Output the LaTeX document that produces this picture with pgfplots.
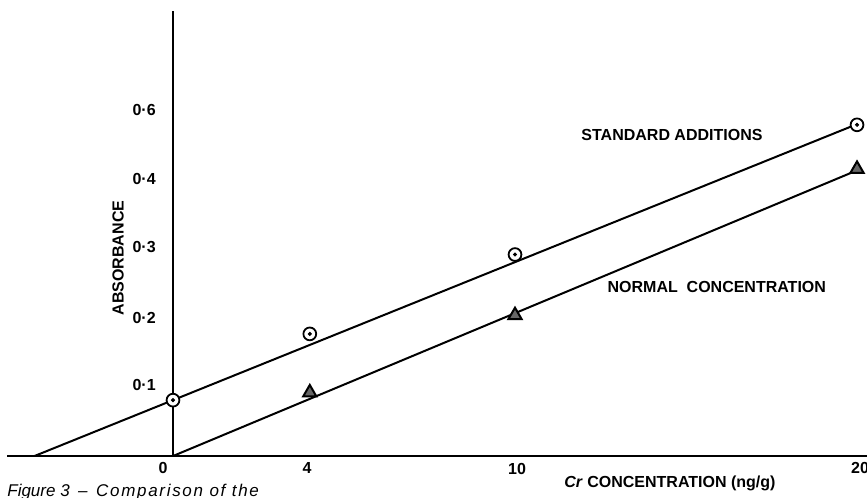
\documentclass[border=0pt]{standalone}
\usepackage{fontspec}
\setmainfont{Liberation Sans}
\usepackage{pgfplots}
\pgfplotsset{compat=1.18}
\tikzset{lbl/.style={font=\bfseries\fontsize{8}{9}\selectfont}}
\begin{document}
\begin{tikzpicture}
\begin{axis}[
  scale only axis, width=433.5pt, height=248.5pt,
  xmin=-5.058, xmax=20.292, ymin=-0.0594, ymax=0.6609,
  axis lines=none, ticks=none, clip=false,
]
% axes
\addplot[black, line width=1pt] coordinates {(-4.85,0) (20.292,0)};
\addplot[black, line width=1pt] coordinates {(0,0) (0,0.645)};
% fitted lines
\addplot[black, line width=1pt] coordinates {(-4.05,0) (20,0.481)};
\addplot[black, line width=1pt] coordinates {(0,0) (20,0.414)};
% standard additions
\addplot[only marks, mark=*, mark size=3.2pt, mark options={draw=black, fill=white, line width=0.9pt}]
  coordinates {(0,0.081) (4,0.177) (10,0.292) (20,0.480)};
\addplot[only marks, mark=*, mark size=0.8pt, mark options={draw=black, fill=black}]
  coordinates {(0,0.081) (4,0.177) (10,0.292) (20,0.480)};
% normal concentration
\addplot[only marks, mark=triangle*, mark size=3.8pt, mark options={draw=black, fill=black!60, line width=1pt}]
  coordinates {(4,0.092) (10,0.204) (20,0.416)};
% labels
\node[lbl] at (axis cs:14.59,0.465) {STANDARD ADDITIONS};
\node[lbl] at (axis cs:15.9,0.245) {NORMAL\ \ CONCENTRATION};
\node[lbl, rotate=90] at (axis cs:-1.608,0.287) {ABSORBANCE};
\node[lbl] at (axis cs:14.53,-0.039) {\textit{Cr} CONCENTRATION (ng/g)};
\node[lbl, anchor=east] at (axis cs:-0.3,0.103) {0·1};
\node[lbl, anchor=east] at (axis cs:-0.3,0.200) {0·2};
\node[lbl, anchor=east] at (axis cs:-0.3,0.303) {0·3};
\node[lbl, anchor=east] at (axis cs:-0.3,0.401) {0·4};
\node[lbl, anchor=east] at (axis cs:-0.3,0.501) {0·6};
\node[lbl] at (axis cs:-0.29,-0.017) {0};
\node[lbl] at (axis cs:3.92,-0.017) {4};
\node[lbl] at (axis cs:10.06,-0.019) {10};
\node[lbl] at (axis cs:20.09,-0.018) {20};
\node[anchor=base west, inner sep=0pt, font=\itshape\fontsize{8.5}{10}\selectfont] at (axis cs:-4.854,-0.0580) {Figure 3\enspace –\enspace{\addfontfeature{LetterSpace=10}Comparison of the}};
\end{axis}
\pgfresetboundingbox
\useasboundingbox (current axis.south west) rectangle (current axis.north east);
\end{tikzpicture}
\end{document}
